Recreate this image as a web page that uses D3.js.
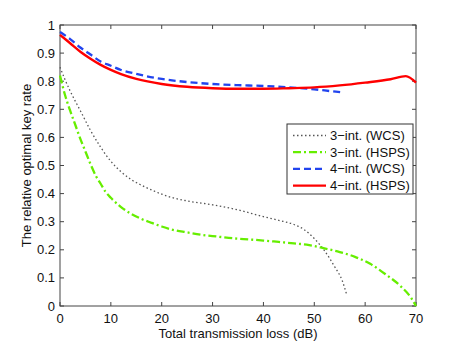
<!DOCTYPE html>
<html>
<head>
<meta charset="utf-8">
<script src="https://cdnjs.cloudflare.com/ajax/libs/d3/7.8.5/d3.min.js"></script>
<style>
body { margin: 0; background: #fff; }
text { font-family: "Liberation Sans", Arial, sans-serif; fill: #111; }
</style>
</head>
<body>
<div id="chart"></div>
<script>
// data
var wcs3X = [0, 1, 2, 4, 6, 8, 10, 12, 14, 16, 18, 20, 22, 25, 30, 35, 40, 43, 46, 48, 50, 52, 54, 55.5, 56.3];
var wcs3Y = [0.85, 0.805, 0.765, 0.695, 0.625, 0.565, 0.515, 0.478, 0.45, 0.43, 0.413, 0.398, 0.386, 0.374, 0.36, 0.342, 0.318, 0.305, 0.29, 0.272, 0.24, 0.197, 0.14, 0.09, 0.045];

var hsps3X = [0, 1, 2, 3, 4, 5, 6, 7, 8, 9, 10, 12, 14, 16, 18, 20, 22, 25, 28, 31, 34, 37, 40, 43, 46, 49, 52, 55, 58, 61, 64, 67, 69, 70];
var hsps3Y = [0.82, 0.75, 0.695, 0.645, 0.595, 0.55, 0.505, 0.465, 0.435, 0.405, 0.385, 0.352, 0.328, 0.31, 0.296, 0.283, 0.272, 0.262, 0.253, 0.247, 0.241, 0.237, 0.233, 0.228, 0.223, 0.217, 0.205, 0.192, 0.175, 0.15, 0.113, 0.07, 0.03, 0];

var wcs4X = [0, 2, 4, 6, 8, 10, 12, 15, 20, 25, 30, 35, 40, 45, 50, 53, 55.5];
var wcs4Y = [0.975, 0.95, 0.92, 0.895, 0.87, 0.855, 0.84, 0.826, 0.808, 0.797, 0.79, 0.786, 0.783, 0.778, 0.771, 0.765, 0.76];

var hsps4X = [0, 2, 4, 6, 8, 10, 12, 15, 20, 25, 30, 35, 40, 45, 50, 55, 60, 65, 68, 70];
var hsps4Y = [0.965, 0.935, 0.905, 0.88, 0.858, 0.84, 0.825, 0.808, 0.79, 0.78, 0.775, 0.773, 0.773, 0.775, 0.778, 0.785, 0.795, 0.807, 0.818, 0.795];

var xTicks = [0, 10, 20, 30, 40, 50, 60, 70];
var yTicks = [0, 0.1, 0.2, 0.3, 0.4, 0.5, 0.6, 0.7, 0.8, 0.9, 1];

var seriesNames = ["3\u2212int. (WCS)", "3\u2212int. (HSPS)", "4\u2212int. (WCS)", "4\u2212int. (HSPS)"];

var width = 460, height = 346;
var pLeft = 60, pRight = 416, pTop = 25, pBottom = 306;

var svg = d3.select("#chart").append("svg")
  .attr("width", width).attr("height", height);

var x = d3.scaleLinear().domain([0, 70]).range([pLeft, pRight]);
var y = d3.scaleLinear().domain([0, 1]).range([pBottom, pTop]);

// frame
svg.append("rect")
  .attr("x", pLeft).attr("y", pTop)
  .attr("width", pRight - pLeft).attr("height", pBottom - pTop)
  .attr("fill", "#fff").attr("stroke", "#444").attr("stroke-width", 1);

// ticks inside on all four sides
var tl = 4;
var ax = svg.append("g").attr("stroke", "#444").attr("stroke-width", 1);
xTicks.forEach(function(t) {
  ax.append("line").attr("x1", x(t)).attr("x2", x(t)).attr("y1", pBottom).attr("y2", pBottom - tl);
  ax.append("line").attr("x1", x(t)).attr("x2", x(t)).attr("y1", pTop).attr("y2", pTop + tl);
});
yTicks.forEach(function(t) {
  ax.append("line").attr("x1", pLeft).attr("x2", pLeft + tl).attr("y1", y(t)).attr("y2", y(t));
  ax.append("line").attr("x1", pRight).attr("x2", pRight - tl).attr("y1", y(t)).attr("y2", y(t));
});

svg.append("g").selectAll("text").data(xTicks).enter().append("text")
  .attr("x", function(d) { return x(d); })
  .attr("y", pBottom + 17)
  .attr("text-anchor", "middle")
  .style("font-size", "13px")
  .text(function(d) { return d; });

svg.append("g").selectAll("text").data(yTicks).enter().append("text")
  .attr("x", pLeft - 5)
  .attr("y", function(d) { return y(d) + 4.5; })
  .attr("text-anchor", "end")
  .style("font-size", "13px")
  .text(function(d) { return d3.format("~g")(d); });

svg.append("text")
  .attr("x", (pLeft + pRight) / 2).attr("y", 338)
  .attr("text-anchor", "middle")
  .style("font-size", "13px")
  .text("Total transmission loss (dB)");

svg.append("text")
  .attr("transform", "translate(31," + ((pTop + pBottom) / 2) + ") rotate(-90)")
  .attr("text-anchor", "middle")
  .style("font-size", "13px")
  .text("The relative optimal key rate");

var styles = [
  { color: "#555", width: 1.3, dash: "1.5,2.5" },
  { color: "#66ee00", width: 2.3, dash: "8,3,2,3" },
  { color: "#2244ee", width: 2.3, dash: "7,4" },
  { color: "#ff0000", width: 2.4, dash: null }
];
var series = [
  [wcs3X, wcs3Y], [hsps3X, hsps3Y], [wcs4X, wcs4Y], [hsps4X, hsps4Y]
];

var line = d3.line()
  .x(function(d) { return x(d[0]); })
  .y(function(d) { return y(d[1]); })
  .curve(d3.curveMonotoneX);

series.forEach(function(s, i) {
  var pts = s[0].map(function(v, j) { return [v, s[1][j]]; });
  svg.append("path")
    .datum(pts)
    .attr("d", line)
    .attr("fill", "none")
    .attr("stroke", styles[i].color)
    .attr("stroke-width", styles[i].width)
    .attr("stroke-dasharray", styles[i].dash);
});

// legend
var lg = svg.append("g");
lg.append("rect")
  .attr("x", 287).attr("y", 124).attr("width", 126).attr("height", 70)
  .attr("fill", "#fff").attr("stroke", "#333").attr("stroke-width", 1);
seriesNames.forEach(function(name, i) {
  var cy = 135.5 + i * 16.7;
  lg.append("line")
    .attr("x1", 293).attr("x2", 326).attr("y1", cy).attr("y2", cy)
    .attr("stroke", styles[i].color)
    .attr("stroke-width", styles[i].width)
    .attr("stroke-dasharray", styles[i].dash);
  lg.append("text")
    .attr("x", 330).attr("y", cy + 4.5)
    .style("font-size", "13px")
    .text(name);
});
</script>
</body>
</html>
